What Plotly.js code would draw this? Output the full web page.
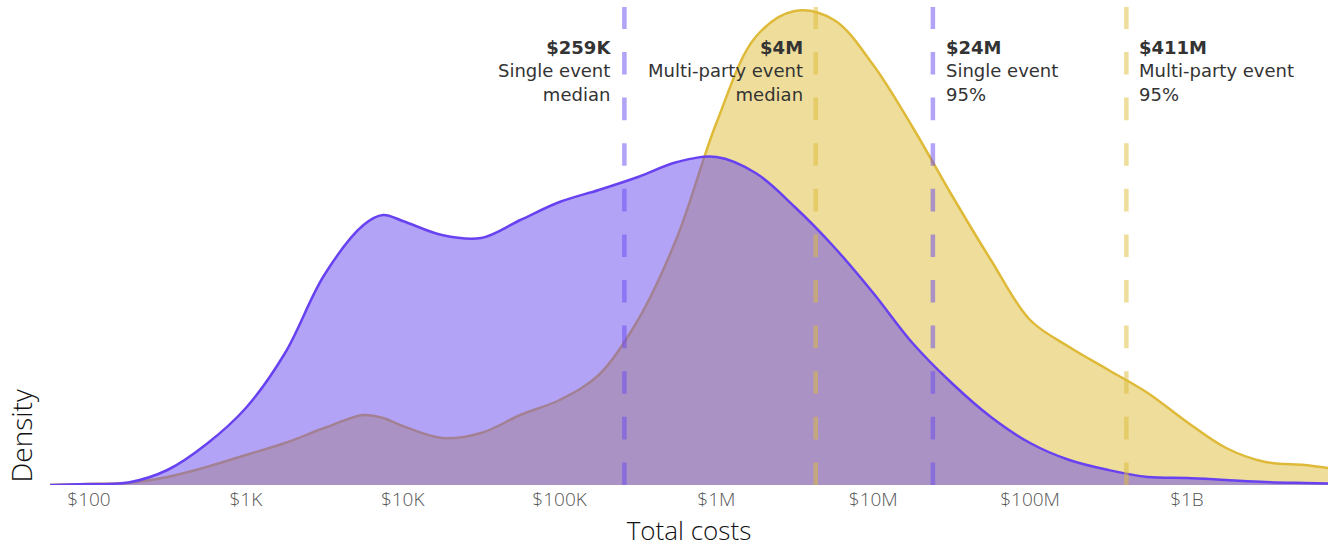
<!DOCTYPE html>
<html>
<head>
<meta charset="utf-8">
<script src="https://cdn.plot.ly/plotly-3.0.1.min.js"></script>
<style>html,body{margin:0;padding:0;background:#fff;}#chart{width:1328px;height:548px;}</style>
</head>
<body>
<div id="chart"></div>
<script>
// Total costs (USD) at which the densities were read (log-spaced)
const costs = [56, 100, 178, 316, 562, 1000, 1778, 3162, 5623, 7499, 10000, 17783, 31623, 56234,
  100000, 177828, 316228, 562341, 1000000, 1778279, 3162278, 5623413, 10000000, 17782794,
  31622777, 56234133, 100000000, 177827941, 316227766, 562341325, 1000000000, 1778279410,
  3162277660, 5623413252, 7943282347];
// Density, single event
const singleDensity = [0, 0.001, 0.0025, 0.015, 0.041, 0.077, 0.132, 0.210, 0.260, 0.270, 0.264,
  0.250, 0.247, 0.265, 0.283, 0.295, 0.308, 0.323, 0.328, 0.312, 0.278, 0.238, 0.192,
  0.142, 0.102, 0.068, 0.042, 0.025, 0.015, 0.008, 0.007, 0.005, 0.003, 0.002, 0.0015];
// Density, multi-party event
const multiDensity = [0, 0.001, 0.002, 0.008, 0.018, 0.030, 0.042, 0.057, 0.070, 0.067, 0.059,
  0.047, 0.052, 0.070, 0.085, 0.110, 0.165, 0.248, 0.362, 0.448, 0.474, 0.465, 0.420,
  0.358, 0.290, 0.225, 0.165, 0.138, 0.115, 0.092, 0.063, 0.037, 0.023, 0.020, 0.017];

// Reference lines
const markValues = [259000, 4300000, 24000000, 411000000];
const markSeries = ['single', 'multi', 'single', 'multi'];
const markLabels = ['$259K', '$4M', '$24M', '$411M'];
const markLine1 = ['Single event', 'Multi-party event', 'Single event', 'Multi-party event'];
const markLine2 = ['median', 'median', '95%', '95%'];
const markSide = ['left', 'left', 'right', 'right'];

// Axis ticks
const tickValues = [100, 1000, 10000, 100000, 1000000, 10000000, 100000000, 1000000000];
const tickLabels = ['$100', '$1K', '$10K', '$100K', '$1M', '$10M', '$100M', '$1B'];

const YMAX = 0.478;
const purple = 'rgb(104,66,240)';
const purpleFill = 'rgba(104,72,240,0.5)';
const yellow = 'rgb(222,186,56)';
const yellowFill = 'rgba(222,188,55,0.5)';

const traces = [
  {x: costs, y: multiDensity, type: 'scatter', mode: 'lines', fill: 'tozeroy',
   fillcolor: yellowFill, line: {color: yellow, width: 2.5, shape: 'spline', smoothing: 1},
   hoverinfo: 'skip'},
  {x: costs, y: singleDensity, type: 'scatter', mode: 'lines', fill: 'tozeroy',
   fillcolor: purpleFill, line: {color: purple, width: 2.5, shape: 'spline', smoothing: 1},
   hoverinfo: 'skip'}
];
markValues.forEach((v, i) => {
  traces.push({x: [v, v], y: [0, YMAX], type: 'scatter', mode: 'lines',
    line: {color: markSeries[i] === 'single' ? 'rgba(104,72,240,0.5)' : 'rgba(222,188,55,0.5)',
           width: 4.5, dash: '22.6px,23px'}, hoverinfo: 'skip'});
});

const annotations = [];
markValues.forEach((v, i) => {
  const left = markSide[i] === 'left';
  annotations.push({
    x: Math.log10(v), xref: 'x', y: 0.866, yref: 'paper',
    text: '<b>' + markLabels[i] + '</b><br>' + markLine1[i] + '<br>' + markLine2[i],
    showarrow: false,
    xanchor: left ? 'right' : 'left',
    xshift: left ? -11 : 11,
    yanchor: 'middle',
    align: left ? 'right' : 'left',
    font: {family: 'DejaVu Sans', size: 18, color: '#333', weight: 400}
  });
});
annotations.push({
  x: 0, xref: 'paper', xshift: -30, xanchor: 'center',
  y: 0, yref: 'paper', yanchor: 'bottom',
  text: 'Density', textangle: -90, showarrow: false,
  font: {family: 'Open Sans', size: 28, color: '#111', weight: 300}
});

const layout = {
  width: 1328, height: 548,
  margin: {l: 50, r: 0, t: 7, b: 63},
  paper_bgcolor: '#fff', plot_bgcolor: '#fff',
  showlegend: false,
  font: {family: 'Open Sans', color: '#555'},
  xaxis: {
    type: 'log', range: [Math.log10(56.4), Math.log10(7.93e9)],
    tickvals: tickValues, ticktext: tickLabels,
    showgrid: false, zeroline: false, showline: false, ticks: '',
    ticklabelstandoff: 1,
    tickfont: {family: 'Open Sans', size: 19, color: '#555', weight: 300},
    title: {text: 'Total costs', font: {family: 'Open Sans', size: 26, color: '#111', weight: 300}, standoff: 3}
  },
  yaxis: {
    range: [0, YMAX], showgrid: false, zeroline: false, showline: false,
    showticklabels: false, ticks: ''
  },
  annotations: annotations
};

Plotly.newPlot('chart', traces, layout, {displayModeBar: false, staticPlot: true});
</script>
</body>
</html>
